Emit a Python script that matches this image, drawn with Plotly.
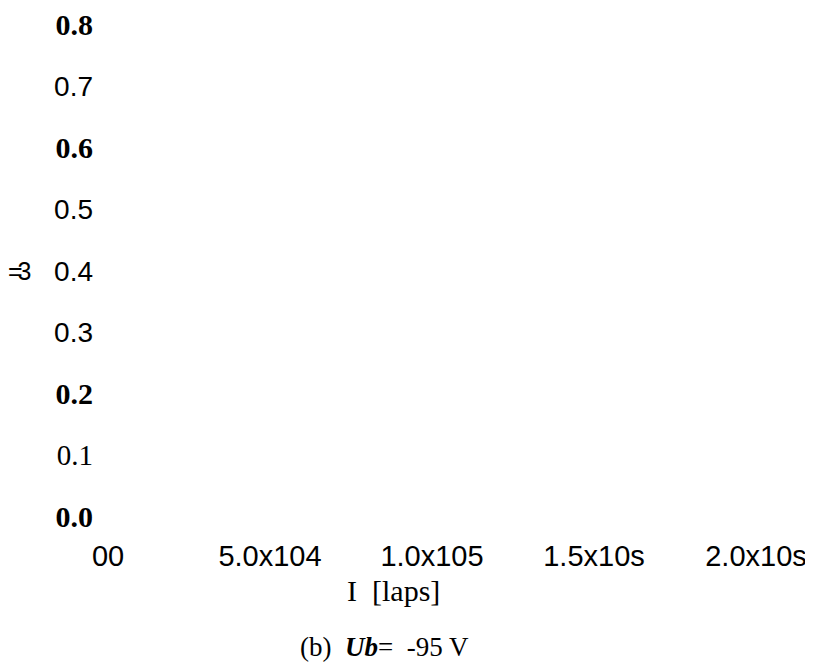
import plotly.graph_objects as go

# Axis tick values and their (OCR-like) labels
y_tick_vals = [0.0, 0.1, 0.2, 0.3, 0.4, 0.5, 0.6, 0.7, 0.8]
y_tick_labels = ["0.0", "0.1", "0.2", "0.3", "0.4", "0.5", "0.6", "0.7", "0.8"]
y_tick_kinds = ["serif-bold", "serif", "serif-bold", "sans", "sans", "sans", "serif-bold", "sans", "serif-bold"]

x_tick_vals = [0, 50000, 100000, 150000, 200000]
x_tick_labels = ["00", "5.0x104", "1.0x105", "1.5x10s", "2.0x10s"]

x_title = "I  [laps]"
y_title = "=3"
caption = "(b)  <b><i>Ub</i></b>=  -95 V"

SANS = "Liberation Sans, Arial, sans-serif"
SERIF = "Liberation Serif, Times New Roman, serif"

styles = {
    "sans": f"font-family:{SANS};font-size:28px;font-weight:normal",
    "serif": f"font-family:{SERIF};font-size:29px;font-weight:normal",
    "serif-bold": f"font-family:{SERIF};font-size:30px;font-weight:bold",
}

y_ticktext = [f'<span style="{styles[k]}">{t}</span>' for t, k in zip(y_tick_labels, y_tick_kinds)]

fig = go.Figure()
fig.add_trace(go.Scatter(x=[], y=[], mode="markers", showlegend=False, hoverinfo="skip"))

# the page body adds an 8px offset; figure coordinates account for it
OFF = 8
L, R, T, B = 100, 65, 17, 159
W_PLOT = 813 - L - R
H_PLOT = 668 - T - B


def px(sx):
    return (sx - OFF - L) / W_PLOT


def py(sy):
    return (668 - B - (sy - OFF)) / H_PLOT


fig.update_layout(
    width=813,
    height=668,
    paper_bgcolor="white",
    plot_bgcolor="white",
    margin=dict(l=L, r=R, t=T, b=B),
    showlegend=False,
    xaxis=dict(
        range=[0, 200000],
        tickmode="array",
        tickvals=x_tick_vals,
        ticktext=x_tick_labels,
        tickfont=dict(family=SANS, size=29, color="black"),
        showgrid=False, zeroline=False, showline=False,
        ticks="", ticklabelstandoff=19, automargin=False,
        ticklabeloverflow="allow",
    ),
    yaxis=dict(
        range=[0, 0.8],
        tickmode="array",
        tickvals=y_tick_vals,
        ticktext=y_ticktext,
        tickfont=dict(family=SANS, size=28, color="black"),
        showgrid=False, zeroline=False, showline=False,
        ticks="", ticklabelstandoff=14, automargin=False,
        ticklabeloverflow="allow",
    ),
    annotations=[
        dict(text=x_title, xref="paper", yref="paper", x=px(393), y=py(590),
             showarrow=False, xanchor="center", yanchor="middle",
             font=dict(family=SERIF, size=30, color="black")),
        dict(text=caption, xref="paper", yref="paper", x=px(384), y=py(647),
             showarrow=False, xanchor="center", yanchor="middle",
             font=dict(family=SERIF, size=27, color="black")),
        dict(text=f'<span style="letter-spacing:-5px">{y_title}</span>', xref="paper", yref="paper",
             x=px(6), y=py(271),
             showarrow=False, xanchor="left", yanchor="middle",
             font=dict(family=SANS, size=25, color="black")),
    ],
)

fig.write_html("out.html")
